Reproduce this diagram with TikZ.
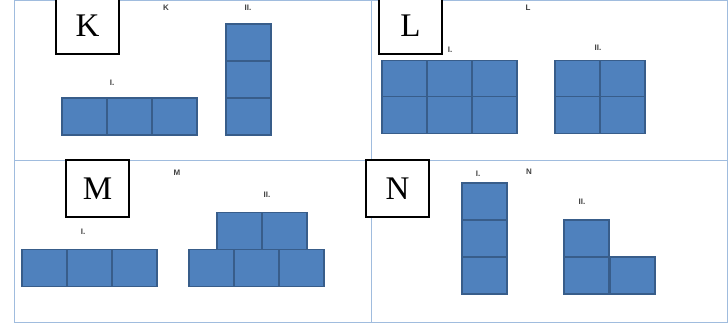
\documentclass[tikz,border=0pt]{standalone}
\usepackage{fontspec}
\setmainfont{Liberation Serif}
\setsansfont{Liberation Sans}
\usepackage{xcolor}
\usetikzlibrary{positioning}

\definecolor{cellblue}{RGB}{79,129,189}
\definecolor{celledge}{RGB}{56,93,138}
\definecolor{gridline}{RGB}{160,188,222}

\begin{document}
\begin{tikzpicture}[
    x=1pt, y=-1pt,
    cell/.style={rectangle, draw=celledge, fill=cellblue, line width=1.2pt, minimum width=45pt, minimum height=37pt, inner sep=0pt},
    tagbox/.style={rectangle, draw=black, fill=white, line width=1.3pt, minimum width=63pt, minimum height=57pt, inner sep=0pt, text depth=-2pt, font=\fontsize{33}{33}\selectfont},
    smalltag/.style={font=\sffamily\bfseries\fontsize{8}{8}\selectfont, text=black!75, inner sep=0pt},
    divider/.style={gridline, line width=0.8pt}
]
\useasboundingbox (0,0) rectangle (728,323);

% ── frame and dividers ──
\draw[divider] (14,0.5) rectangle (727,322);
\draw[divider] (14,160) -- (727,160);
\draw[divider] (371,0) -- (371,322);

% ════════════════════════════════════════
% TOP-LEFT: K
% ════════════════════════════════════════
\node[smalltag] (kname) at (166,8) {K};
\node[smalltag] (kone) at (112,83) {I.};
\node[smalltag] (ktwo) at (248,8) {II.};
\node[cell] (k1a) at (84.5,116.5) {};
\node[cell] (k1b) at (129.5,116.5) {};
\node[cell] (k1c) at (174.5,116.5) {};
\node[cell] (k2a) at (248.5,42.5) {};
\node[cell] (k2b) at (248.5,79.5) {};
\node[cell] (k2c) at (248.5,116.5) {};
\node[tagbox] (ktag) at (87.5,25.5) {K};

% ════════════════════════════════════════
% TOP-RIGHT: L
% ════════════════════════════════════════
\node[smalltag] (lname) at (528,8) {L};
\node[smalltag] (lone) at (450,50) {I.};
\node[smalltag] (ltwo) at (598,48) {II.};
\node[cell] (l1a) at (404.5,79) {};
\node[cell] (l1b) at (449.5,79) {};
\node[cell] (l1c) at (494.5,79) {};
\node[cell] (l1d) at (404.5,115) {};
\node[cell] (l1e) at (449.5,115) {};
\node[cell] (l1f) at (494.5,115) {};
\node[cell] (l2a) at (577.5,79) {};
\node[cell] (l2b) at (622.5,79) {};
\node[cell] (l2c) at (577.5,115) {};
\node[cell] (l2d) at (622.5,115) {};
\node[tagbox] (ltag) at (410.5,25.5) {L};

% ════════════════════════════════════════
% BOTTOM-LEFT: M
% ════════════════════════════════════════
\node[smalltag] (mname) at (177,173) {M};
\node[smalltag] (mone) at (83,232) {I.};
\node[smalltag] (mtwo) at (267,195) {II.};
\node[cell] (m1a) at (44.5,268) {};
\node[cell] (m1b) at (89.5,268) {};
\node[cell] (m1c) at (134.5,268) {};
\node[cell] (m2a) at (211.5,268) {};
\node[cell] (m2b) at (256.5,268) {};
\node[cell] (m2c) at (301.5,268) {};
\node[cell] (m2d) at (239.5,231) {};
\node[cell] (m2e) at (284.5,231) {};
\node[tagbox] (mtag) at (97.5,188.5) {M};

% ════════════════════════════════════════
% BOTTOM-RIGHT: N
% ════════════════════════════════════════
\node[smalltag] (nname) at (529,172) {N};
\node[smalltag] (none) at (478,174) {I.};
\node[smalltag] (ntwo) at (582,202) {II.};
\node[cell] (n1a) at (484.5,201.5) {};
\node[cell] (n1b) at (484.5,238.5) {};
\node[cell] (n1c) at (484.5,275.5) {};
\node[cell] (n2a) at (586.5,238.5) {};
\node[cell] (n2b) at (586.5,275.5) {};
\node[cell] (n2c) at (632.5,275.5) {};
\node[tagbox] (ntag) at (397.5,188.5) {N};

\end{tikzpicture}
\end{document}
